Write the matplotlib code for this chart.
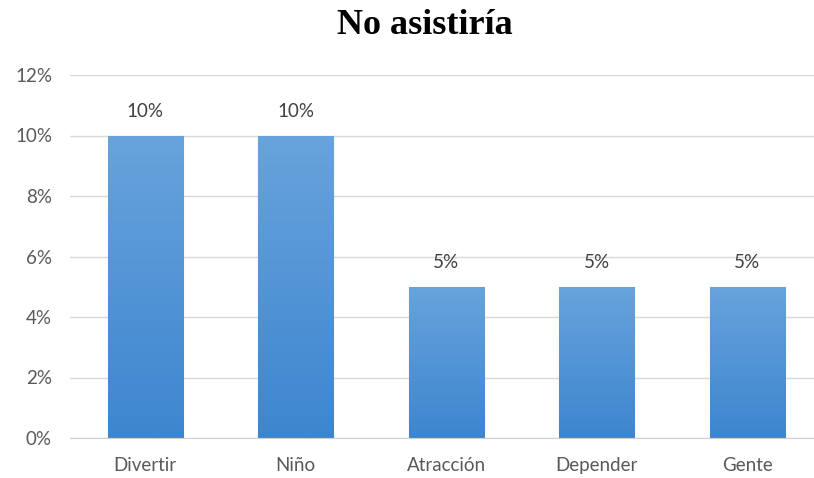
import numpy as np
import matplotlib.pyplot as plt
from matplotlib.colors import LinearSegmentedColormap

categories = ["Divertir", "Niño", "Atracción", "Depender", "Gente"]
values = [10, 10, 5, 5, 5]
labels = ["10%", "10%", "5%", "5%", "5%"]
yticks = [0, 2, 4, 6, 8, 10, 12]

fig = plt.figure(figsize=(8.14, 4.78), dpi=100)
ax = fig.add_axes([70 / 814, 40 / 478, 745 / 814, 363 / 478])

x = np.arange(len(categories))
bars = ax.bar(x, values, width=0.5, color="#5b9bd5", edgecolor="#7f9fc4", linewidth=0.8, zorder=2)

# vertical gradient inside each bar
cmap = LinearSegmentedColormap.from_list("g", ["#3d86cf", "#68a3dc"])
grad = np.linspace(0, 1, 256).reshape(-1, 1)
for b in bars:
    bx, by = b.get_x(), b.get_y()
    im = ax.imshow(grad, cmap=cmap, origin="lower", aspect="auto", zorder=2.5,
                   extent=[bx, bx + b.get_width(), by, by + b.get_height()])
    im.set_clip_path(b)

for xi, v, lab in zip(x, values, labels):
    ax.annotate(lab, (xi, v), xytext=(0, 17.5), textcoords="offset points",
                ha="center", va="center", fontsize=13.5, color="#404040", family="Lato")

ax.set_xlim(-0.5, 4.45)
ax.set_ylim(0, 12)
ax.set_yticks(yticks)
ax.set_yticklabels([f"{t}%" for t in yticks])
ax.set_xticks(x)
ax.set_xticklabels(categories)
ax.grid(axis="y", color="#d9d9d9", linewidth=1, zorder=0)
ax.set_axisbelow(True)
for s in ["top", "right", "left"]:
    ax.spines[s].set_visible(False)
ax.spines["bottom"].set_color("#d0d0d0")
ax.tick_params(axis="both", length=0, labelsize=13.5, colors="#595959")
ax.tick_params(axis="x", pad=14)
ax.tick_params(axis="y", pad=13)
for t in ax.get_xticklabels() + ax.get_yticklabels():
    t.set_family("Lato")

fig.text(0.522, 1 - 25 / 478, "No asistiría", ha="center", va="center", fontsize=26,
         fontweight="bold", family="Liberation Serif")

fig.savefig("out.png", dpi=100)
